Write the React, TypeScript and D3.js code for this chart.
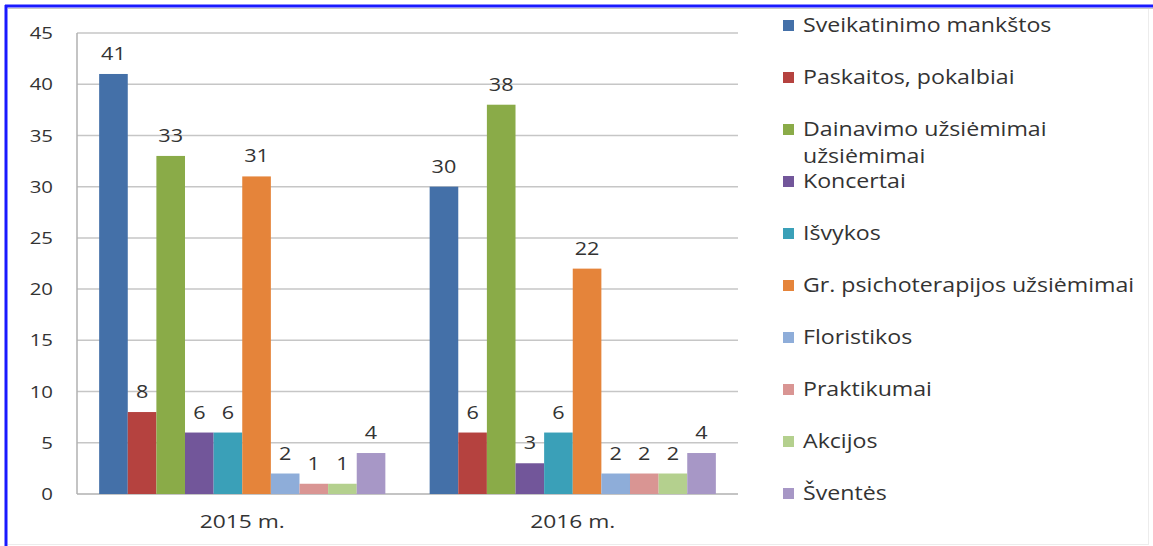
import * as d3 from "d3";

const groups = ["2015 m.", "2016 m."];
const seriesNames = [
  "Sveikatinimo mankštos",
  "Paskaitos, pokalbiai",
  "Dainavimo užsiėmimai užsiėmimai",
  "Koncertai",
  "Išvykos",
  "Gr. psichoterapijos užsiėmimai",
  "Floristikos",
  "Praktikumai",
  "Akcijos",
  "Šventės",
];
const values2015 = [41, 8, 33, 6, 6, 31, 2, 1, 1, 4];
const values2016 = [30, 6, 38, 3, 6, 22, 2, 2, 2, 4];
const colors = [
  "#4470a8",
  "#b5423f",
  "#8aab48",
  "#72569a",
  "#3aa0b8",
  "#e5843a",
  "#8eadd9",
  "#d99593",
  "#b4d08e",
  "#a797c6",
];
const yTicks = [0, 5, 10, 15, 20, 25, 30, 35, 40, 45];

const W = 1153;
const H = 546;
const plot = { left: 77, right: 738, top: 33, bottom: 494 };
const FONT = "'Open Sans', sans-serif";
const SX = 1.2; // the picture's text looks stretched sideways

// text stretched horizontally around its anchor point
function Label(props: {
  x: number;
  y: number;
  size: number;
  anchor?: string;
  dy?: string;
  children: any;
}) {
  return (
    <text
      transform={`translate(${props.x},${props.y}) scale(${SX},1)`}
      dy={props.dy}
      textAnchor={props.anchor ?? "start"}
      fontSize={props.size}
      fill="#333"
    >
      {props.children}
    </text>
  );
}

export default function App() {
  const data = [values2015, values2016];

  const y = d3.scaleLinear().domain([0, 45]).range([plot.bottom, plot.top]);
  const x0 = d3
    .scaleBand<string>()
    .domain(groups)
    .range([plot.left, plot.right])
    .paddingInner(0.134)
    .paddingOuter(0.067);
  const x1 = d3
    .scaleBand<number>()
    .domain(d3.range(seriesNames.length))
    .range([0, x0.bandwidth()]);

  // legend rows: Dainavimo wraps onto two lines
  const legendLines = seriesNames.map((s) =>
    s === "Dainavimo užsiėmimai užsiėmimai"
      ? ["Dainavimo užsiėmimai", "užsiėmimai"]
      : [s]
  );
  const legendY = d3.scaleLinear().domain([0, 9]).range([25, 493]);

  return (
    <svg
      width={W}
      height={H}
      style={{ position: "absolute", left: 0, top: 0, background: "#fff" }}
      fontFamily={FONT}
    >
      {/* outer frame */}
      <rect x={0} y={0} width={W} height={H} fill="#fff" />
      <line x1={6} x2={6} y1={5} y2={H} stroke="#1a1aff" strokeWidth={3} />
      <line x1={5} x2={W} y1={6} y2={6} stroke="#1a1aff" strokeWidth={3} />
      <line x1={8} x2={W} y1={8.5} y2={8.5} stroke="#c8c8c8" strokeWidth={1} />
      <line x1={1148.5} x2={1148.5} y1={9} y2={545} stroke="#ececec" strokeWidth={1} />
      <line x1={8} x2={1149} y1={544.5} y2={544.5} stroke="#ececec" strokeWidth={1} />

      {/* grid */}
      {yTicks.map((t) => (
        <line
          key={t}
          x1={plot.left}
          x2={plot.right}
          y1={y(t)}
          y2={y(t)}
          stroke={t === 0 ? "#b0b0b0" : "#c6c6c6"}
          strokeWidth={1.5}
        />
      ))}
      <line
        x1={plot.left}
        x2={plot.left}
        y1={plot.top}
        y2={plot.bottom}
        stroke="#b0b0b0"
        strokeWidth={1.5}
      />

      {/* y labels */}
      {yTicks.map((t) => (
        <Label key={t} x={53} y={y(t)} dy="0.36em" anchor="end" size={17}>
          {t}
        </Label>
      ))}

      {/* bars */}
      {groups.map((g, gi) => (
        <g key={g} transform={`translate(${x0(g)},0)`}>
          {data[gi].map((v, i) => (
            <g key={i}>
              <rect
                x={x1(i)}
                y={y(v)}
                width={x1.bandwidth()}
                height={y(0) - y(v)}
                fill={colors[i]}
              />
              <Label
                x={(x1(i) ?? 0) + x1.bandwidth() / 2}
                y={y(v) - 14}
                anchor="middle"
                size={18}
              >
                {v}
              </Label>
            </g>
          ))}
          <Label x={x0.bandwidth() / 2} y={528} anchor="middle" size={19}>
            {g}
          </Label>
        </g>
      ))}

      {/* legend */}
      {seriesNames.map((s, i) => {
        const cy = legendY(i);
        return (
          <g key={s}>
            <rect x={783} y={cy - 5} width={11} height={11} fill={colors[i]} />
            {legendLines[i].map((ln, li) => (
              <Label key={li} x={803} y={cy + li * 27} dy="0.36em" size={19.3}>
                {ln}
              </Label>
            ))}
          </g>
        );
      })}
    </svg>
  );
}
